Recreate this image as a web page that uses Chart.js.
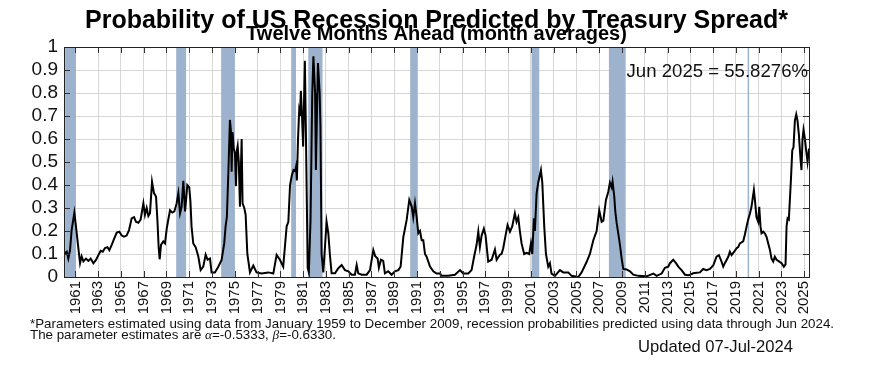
<!DOCTYPE html>
<html><head><meta charset="utf-8">
<script src="https://cdn.jsdelivr.net/npm/chart.js@4.4.1/dist/chart.umd.min.js"></script>
<style>
html,body{margin:0;padding:0;background:#fff;}
#wrap{position:relative;width:873px;height:389px;overflow:hidden;}
#c{position:absolute;left:0;top:0;}
.note{position:absolute;font-family:'Liberation Sans',Arial,sans-serif;color:#111;white-space:nowrap;}
.math{font-family:'Liberation Serif','DejaVu Serif',serif;font-style:italic;}
</style></head><body>
<div id="wrap">
<canvas id="c" width="873" height="389"></canvas>
<div class="note" style="left:30px;top:319px;font-size:13.35px;line-height:10.5px">*Parameters estimated using data from January 1959 to December 2009, recession probabilities predicted using data through Jun 2024.<br>The parameter estimates are <span class="math">α</span>=-0.5333, <span class="math">β</span>=-0.6330.</div>
<div class="note" style="left:638px;top:339px;font-size:16.6px;line-height:16px">Updated 07-Jul-2024</div>
</div>
<script>
// ---- data (decimal years, probability) ----
const dates = [
1960.0,1960.09,1960.24,1960.38,1960.53,1960.67,1960.91,1961.05,1961.26,1961.41,1961.55,1961.7,1961.93,
1962.14,1962.34,1962.58,1962.81,1963.02,1963.22,1963.4,1963.6,1963.81,1963.98,1964.19,1964.39,1964.63,1964.86,
1965.07,1965.27,1965.5,1965.71,1965.94,1966.15,1966.32,1966.53,1966.73,1966.97,1967.11,1967.26,1967.41,1967.55,
1967.73,1967.9,1968.08,1968.2,1968.31,1968.4,1968.52,1968.72,1968.87,1969.02,1969.16,1969.31,1969.51,1969.69,
1969.89,1970.04,1970.19,1970.33,1970.48,1970.63,1970.83,1971.0,1971.1,1971.2,1971.35,1971.56,1971.79,1972.0,
1972.23,1972.44,1972.61,1972.82,1972.96,1973.25,1973.55,1973.84,1974.07,1974.19,1974.3,1974.43,1974.57,1974.65,
1974.72,1974.8,1974.9,1975.01,1975.1,1975.18,1975.25,1975.35,1975.45,1975.6,1975.68,1975.83,1975.95,1976.1,
1976.33,1976.62,1976.91,1977.35,1977.94,1978.38,1978.67,1978.96,1979.25,1979.55,1979.7,1979.85,1980.0,1980.15,
1980.3,1980.38,1980.45,1980.55,1980.65,1980.72,1980.8,1980.9,1981.0,1981.15,1981.25,1981.4,1981.5,1981.65,
1981.8,1981.9,1982.05,1982.12,1982.3,1982.45,1982.52,1982.62,1982.77,1983.06,1983.21,1983.36,1983.5,1983.8,
1984.09,1984.38,1984.67,1984.97,1985.26,1985.55,1985.7,1985.84,1986.14,1986.58,1986.87,1987.16,1987.33,1987.54,
1987.65,1987.83,1988.03,1988.18,1988.47,1988.77,1989.06,1989.36,1989.56,1989.8,1989.94,1990.09,1990.32,1990.53,
1990.67,1990.82,1990.97,1991.11,1991.26,1991.41,1991.55,1991.7,1991.84,1992.14,1992.43,1992.72,1993.02,1993.16,
1993.74,1994.33,1994.77,1995.06,1995.5,1995.79,1996.02,1996.23,1996.38,1996.52,1996.67,1996.87,1997.02,1997.25,
1997.55,1997.84,1997.99,1998.28,1998.42,1998.57,1998.78,1998.95,1999.16,1999.36,1999.59,1999.74,1999.89,2000.03,
2000.18,2000.41,2000.62,2000.85,2001.0,2001.12,2001.26,2001.35,2001.5,2001.64,2001.88,2002.0,2002.17,2002.32,
2002.52,2002.67,2002.81,2003.11,2003.55,2003.84,2004.28,2004.57,2005.16,2005.45,2005.89,2006.18,2006.48,2006.77,
2007.0,2007.21,2007.36,2007.59,2007.79,2007.94,2008.09,2008.17,2008.32,2008.41,2008.53,2008.67,2008.82,2008.97,
2009.11,2009.4,2009.7,2009.99,2010.43,2011.16,2011.75,2012.04,2012.48,2012.77,2013.06,2013.21,2013.5,2013.74,
2013.94,2014.23,2014.53,2014.82,2014.96,2015.25,2015.55,2015.84,2016.13,2016.42,2016.72,2017.01,2017.3,2017.51,
2017.68,2017.89,2018.03,2018.33,2018.47,2018.62,2018.85,2019.06,2019.2,2019.35,2019.64,2019.79,2019.94,2020.08,
2020.23,2020.37,2020.58,2020.67,2020.81,2020.96,2021.05,2021.16,2021.25,2021.4,2021.54,2021.69,2021.84,2021.98,
2022.13,2022.28,2022.42,2022.57,2022.72,2023.01,2023.21,2023.36,2023.45,2023.54,2023.65,2023.83,2023.95,2024.06,
2024.18,2024.3,2024.41,2024.53,2024.68,2024.76,2024.85,2024.94,2025.06,2025.17,2025.29,2025.42
];
const probability = [
0.10,0.103,0.11,0.08,0.117,0.204,0.28,0.22,0.126,0.06,0.09,0.068,0.08,
0.07,0.08,0.06,0.074,0.095,0.114,0.11,0.126,0.13,0.117,0.14,0.165,0.193,0.197,
0.18,0.175,0.18,0.204,0.255,0.26,0.24,0.236,0.25,0.32,0.27,0.30,0.265,0.277,
0.414,0.365,0.35,0.25,0.13,0.077,0.14,0.155,0.146,0.21,0.25,0.29,0.28,0.285,
0.32,0.364,0.277,0.305,0.418,0.285,0.40,0.39,0.33,0.22,0.146,0.13,0.09,0.03,
0.045,0.097,0.075,0.08,0.02,0.02,0.045,0.074,0.146,0.22,0.26,0.45,0.683,0.64,
0.458,0.63,0.56,0.54,0.395,0.55,0.57,0.50,0.306,0.60,0.32,0.30,0.27,0.10,
0.02,0.05,0.02,0.015,0.02,0.015,0.096,0.075,0.045,0.22,0.24,0.40,0.44,0.465,
0.46,0.48,0.42,0.60,0.72,0.70,0.81,0.70,0.567,0.94,0.60,0.04,0.02,0.25,
0.80,0.96,0.80,0.465,0.93,0.80,0.65,0.10,0.02,0.24,0.19,0.09,0.016,0.016,
0.038,0.052,0.03,0.025,0.01,0.01,0.052,0.016,0.01,0.01,0.03,0.117,0.09,0.08,
0.04,0.075,0.07,0.016,0.025,0.01,0.025,0.03,0.045,0.175,0.21,0.248,0.335,0.306,
0.26,0.32,0.26,0.19,0.20,0.16,0.16,0.10,0.088,0.045,0.025,0.015,0.015,0.005,
0.005,0.01,0.03,0.015,0.015,0.03,0.09,0.14,0.197,0.13,0.18,0.21,0.18,0.067,
0.075,0.12,0.075,0.097,0.10,0.125,0.182,0.226,0.197,0.22,0.277,0.24,0.26,0.20,
0.146,0.10,0.105,0.10,0.146,0.10,0.255,0.20,0.364,0.41,0.465,0.41,0.22,0.10,
0.045,0.06,0.015,0.005,0.03,0.02,0.02,0.005,0.0,0.02,0.065,0.10,0.16,0.20,
0.29,0.24,0.245,0.335,0.37,0.41,0.39,0.415,0.35,0.285,0.235,0.19,0.14,0.08,
0.035,0.033,0.025,0.01,0.005,0.003,0.015,0.005,0.015,0.04,0.045,0.06,0.075,0.06,
0.045,0.03,0.01,0.008,0.01,0.016,0.018,0.02,0.035,0.03,0.035,0.05,0.088,0.095,
0.075,0.045,0.06,0.088,0.11,0.095,0.11,0.125,0.13,0.146,0.155,0.185,0.22,0.25,
0.275,0.305,0.378,0.335,0.26,0.24,0.305,0.22,0.19,0.197,0.19,0.175,0.146,0.12,
0.08,0.067,0.088,0.075,0.07,0.06,0.045,0.055,0.22,0.255,0.25,0.42,0.55,0.565,
0.68,0.707,0.68,0.62,0.51,0.465,0.60,0.64,0.60,0.55,0.50,0.558276
];
const recessionStart = [1960.1, 1969.85, 1973.8, 1979.95, 1981.45, 1990.4, 2001.06, 2007.85, 2020.03];
const recessionEnd   = [1961.05, 1970.72, 1975.0, 1980.37, 1982.7, 1991.05, 2001.73, 2009.32, 2020.14];
const tickYears = [];
for (let y = 1961; y <= 2025; y += 2) tickYears.push(y);
const yTicks = [0,0.1,0.2,0.3,0.4,0.5,0.6,0.7,0.8,0.9,1];
const latestLabel = 'Jun 2025';
const latestValue = probability[probability.length - 1];

const FONT = "'Liberation Sans', Arial, sans-serif";

const bandsPlugin = {
  id: 'bands',
  beforeDatasetsDraw(chart) {
    const {ctx, chartArea: a, scales: {x}} = chart;
    ctx.save();
    ctx.fillStyle = '#9db2cc';
    for (let i = 0; i < recessionStart.length; i++) {
      const x1 = x.getPixelForValue(recessionStart[i]);
      const x2 = x.getPixelForValue(recessionEnd[i]);
      ctx.fillRect(x1, a.top, Math.max(1.5, x2 - x1), a.bottom - a.top);
    }
    ctx.restore();
  },
  afterDatasetsDraw(chart) {
    const {ctx, chartArea: a, scales: {x, y}} = chart;
    ctx.save();
    ctx.strokeStyle = '#333';
    ctx.lineWidth = 1;
    ctx.beginPath();
    const L = 6;
    x.ticks.forEach(t => {
      const px = Math.round(x.getPixelForValue(t.value)) + 0.5;
      ctx.moveTo(px, a.top); ctx.lineTo(px, a.top + L);
      ctx.moveTo(px, a.bottom); ctx.lineTo(px, a.bottom - L);
    });
    y.ticks.forEach(t => {
      const py = Math.round(y.getPixelForValue(t.value)) + 0.5;
      ctx.moveTo(a.left, py); ctx.lineTo(a.left + L, py);
      ctx.moveTo(a.right, py); ctx.lineTo(a.right - L, py);
    });
    ctx.stroke();
    ctx.strokeStyle = '#222';
    ctx.strokeRect(Math.round(a.left) + 0.5, Math.round(a.top) + 0.5, Math.round(a.right - a.left), Math.round(a.bottom - a.top));
    // annotation
    ctx.fillStyle = '#111';
    ctx.font = '18.6px ' + FONT;
    ctx.textAlign = 'right';
    ctx.textBaseline = 'alphabetic';
    ctx.fillText(latestLabel + ' = ' + (latestValue * 100).toFixed(4) + '%', a.right - 1, a.top + 30);
    ctx.restore();
  }
};

new Chart(document.getElementById('c'), {
  type: 'line',
  data: {
    datasets: [{
      data: dates.map((d, i) => ({x: d, y: probability[i]})),
      borderColor: '#000',
      borderWidth: 2,
      pointRadius: 0,
      tension: 0,
      fill: false
    }]
  },
  options: {
    responsive: false,
    animation: false,
    devicePixelRatio: 1,
    layout: {padding: {left: 0, right: 0, top: 0, bottom: 72}},
    plugins: {
      legend: {display: false},
      tooltip: {enabled: false},
      title: {
        display: true,
        text: 'Probability of US Recession Predicted by Treasury Spread*',
        color: '#000',
        font: {family: FONT, size: 25, weight: 'bold', lineHeight: 1},
        padding: {top: 9, bottom: -10}
      },
      subtitle: {
        display: true,
        text: 'Twelve Months Ahead (month averages)',
        color: '#000',
        font: {family: FONT, size: 20, weight: 'bold', lineHeight: 1},
        padding: {top: 0, bottom: 3}
      }
    },
    scales: {
      x: {
        type: 'linear',
        min: 1960,
        max: 2025.42,
        afterBuildTicks: s => { s.ticks = tickYears.map(v => ({value: v})); },
        afterFit: s => { s.height = 40; },
        ticks: {
          autoSkip: false,
          minRotation: 90,
          maxRotation: 90,
          padding: 4,
          color: '#111',
          font: {family: FONT, size: 15},
          callback: v => String(v)
        },
        grid: {color: '#d6d6d6', drawTicks: false},
        border: {display: true, color: '#222'}
      },
      y: {
        min: 0,
        max: 1,
        afterBuildTicks: s => { s.ticks = yTicks.map(v => ({value: v})); },
        afterFit: s => { s.width = 64; },
        ticks: {
          autoSkip: false,
          padding: 6,
          color: '#111',
          font: {family: FONT, size: 19},
          callback: v => String(v)
        },
        grid: {color: '#d6d6d6', drawTicks: false},
        border: {display: true, color: '#222'}
      },
      yRight: {
        position: 'right',
        min: 0,
        max: 1,
        afterFit: s => { s.width = 64; },
        ticks: {display: false},
        grid: {display: false, drawOnChartArea: false},
        border: {display: false}
      }
    }
  },
  plugins: [bandsPlugin]
});
</script>
</body></html>
